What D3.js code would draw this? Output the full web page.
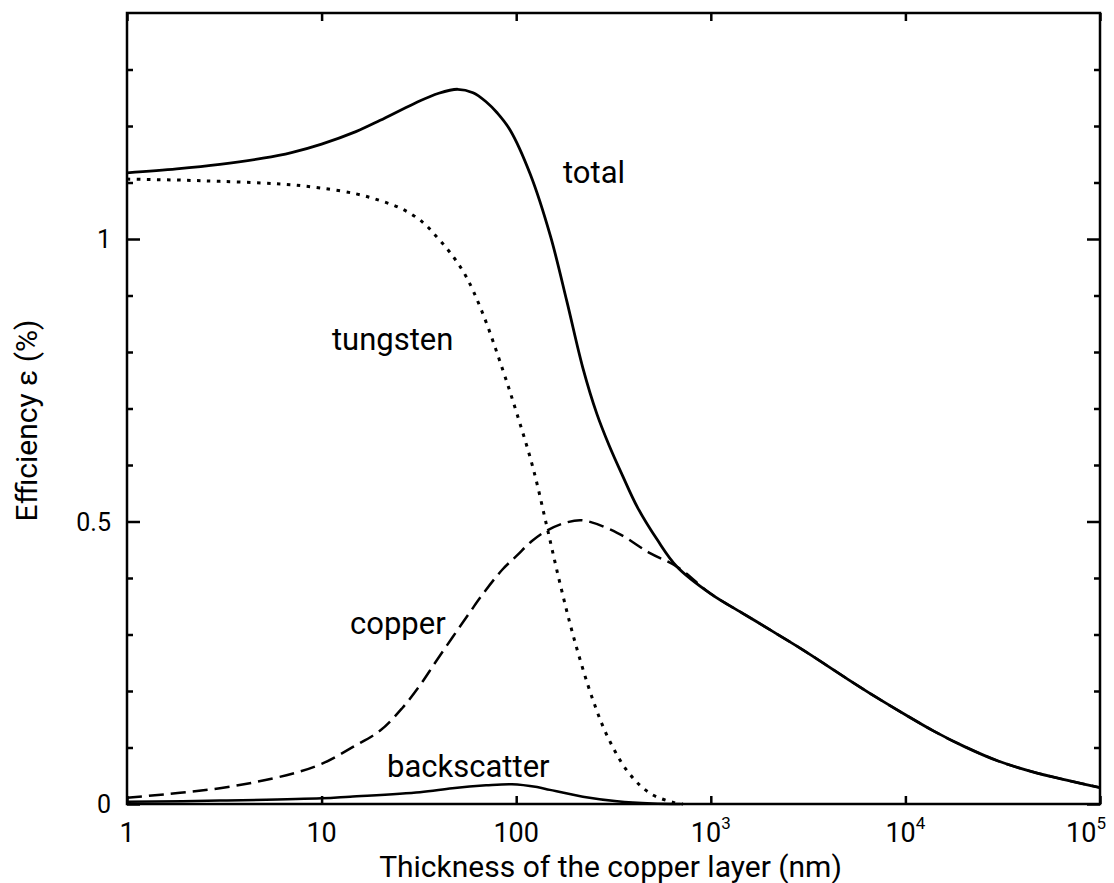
<!DOCTYPE html>
<html>
<head>
<meta charset="utf-8">
<script src="https://cdn.jsdelivr.net/npm/d3@7"></script>
<style>
  body { margin: 0; background: #fff; }
  text { font-family: Roboto, "DejaVu Sans", sans-serif; fill: #000; }
</style>
</head>
<body>
<div id="chart"></div>
<script>
// values: [thickness (nm), efficiency (%)]
var totalCurve = [[1, 1.117], [1.8, 1.124], [3, 1.132], [5, 1.143], [7, 1.153], [10, 1.168], [15, 1.19],
  [20, 1.21], [30, 1.24], [40, 1.258], [50, 1.265], [60, 1.259], [70, 1.243], [80, 1.223], [93, 1.193],
  [118, 1.115], [150, 1.005], [182, 0.89], [220, 0.772], [260, 0.69], [300, 0.635], [350, 0.583],
  [420, 0.525], [530, 0.468], [670, 0.42], [1000, 0.372], [1500, 0.335], [2000, 0.309], [3000, 0.272],
  [5000, 0.222], [7000, 0.19], [10000, 0.158], [14000, 0.129], [20000, 0.102], [30000, 0.076],
  [45000, 0.057], [70000, 0.041], [100000, 0.029]];

var tungstenCurve = [[1, 1.106], [2, 1.104], [3, 1.102], [5, 1.099], [7, 1.096], [10, 1.09], [15, 1.08],
  [20, 1.068], [26, 1.053], [33, 1.03], [39, 1.004], [46, 0.975], [55, 0.935], [67, 0.87], [85, 0.77],
  [101, 0.69], [122, 0.595], [144, 0.49], [168, 0.39], [200, 0.288], [248, 0.184],
  [296, 0.118], [375, 0.057], [487, 0.019], [655, 0.002], [720, 0]];

var copperCurve = [[1, 0.011], [3, 0.028], [6.6, 0.051], [10, 0.071], [14.5, 0.101], [20, 0.13],
  [26, 0.17], [32, 0.21], [39, 0.254], [58, 0.34], [67.5, 0.372], [85, 0.415], [101, 0.44], [120, 0.465],
  [144, 0.484], [180, 0.498], [220, 0.502], [330, 0.48], [487, 0.444], [670, 0.42], [1000, 0.372],
  [1500, 0.335], [2000, 0.309], [3000, 0.272], [5000, 0.222], [7000, 0.19], [10000, 0.158],
  [14000, 0.129], [20000, 0.102], [30000, 0.076], [45000, 0.057], [70000, 0.041], [100000, 0.029]];

var backscatterCurve = [[1, 0.004], [3, 0.006], [10, 0.01], [14, 0.013], [32, 0.021], [47, 0.028],
  [70, 0.033], [95, 0.035], [128, 0.03], [149, 0.025], [220, 0.013], [330, 0.005], [500, 0.001], [700, 0]];

var xTicks = [1, 10, 100, 1e3, 1e4, 1e5];
var xTickBase = ["1", "10", "100", "10", "10", "10"];
var xTickExp = ["", "", "", "3", "4", "5"];
var yMajor = [0, 0.5, 1];
var yMajorLabels = ["0", "0.5", "1"];
var yMinor = [0.1, 0.2, 0.3, 0.4, 0.6, 0.7, 0.8, 0.9, 1.1, 1.2, 1.3];

var curveLabels = [
  {text: "total", x: 174, y: 1.099},
  {text: "tungsten", x: 11.3, y: 0.804},
  {text: "copper", x: 14, y: 0.301},
  {text: "backscatter", x: 21.7, y: 0.048}
];

var W = 1114, H = 883,
  margin = {top: 13, right: 14, bottom: 79, left: 127},
  width = W - margin.left - margin.right,
  height = H - margin.top - margin.bottom;

var svg = d3.select("#chart").append("svg")
  .attr("width", W).attr("height", H)
  .append("g")
  .attr("transform", "translate(" + margin.left + "," + margin.top + ")");

var x = d3.scaleLog().domain([1, 1e5]).range([0, width]);
var y = d3.scaleLinear().domain([0, 1.4]).range([height, 0]);

// tick marks, all pointing inward
function styleTicks(g) {
  g.select(".domain").remove();
  g.selectAll("line").attr("stroke", "#000").attr("stroke-width", 2.5);
  g.selectAll("text").remove();
}
svg.append("g").attr("transform", "translate(0," + height + ")")
  .call(d3.axisBottom(x).tickValues(xTicks).tickSize(-8)).call(styleTicks);
svg.append("g")
  .call(d3.axisTop(x).tickValues(xTicks).tickSize(-8)).call(styleTicks);
svg.append("g")
  .call(d3.axisLeft(y).tickValues(yMajor).tickSize(-13)).call(styleTicks);
svg.append("g")
  .call(d3.axisLeft(y).tickValues(yMinor).tickSize(-6)).call(styleTicks);
svg.append("g").attr("transform", "translate(" + width + ",0)")
  .call(d3.axisRight(y).tickValues(yMajor).tickSize(-13)).call(styleTicks);
svg.append("g").attr("transform", "translate(" + width + ",0)")
  .call(d3.axisRight(y).tickValues(yMinor).tickSize(-6)).call(styleTicks);

// frame
svg.append("rect")
  .attr("width", width).attr("height", height)
  .attr("fill", "none").attr("stroke", "#000").attr("stroke-width", 2.5);

// tick labels (last one kept inside the page)
var last = xTicks.length - 1;
var xl = svg.selectAll(".xlab").data(xTicks).enter().append("text")
  .attr("class", "xlab")
  .attr("x", (d, i) => i === last ? x(d) + 6 : x(d))
  .attr("y", height + 38)
  .attr("text-anchor", (d, i) => i === last ? "end" : "middle")
  .style("font-size", "27px");
xl.append("tspan").text((d, i) => xTickBase[i]);
xl.append("tspan").attr("dy", -13).style("font-size", "17px").text((d, i) => xTickExp[i]);

svg.selectAll(".ylab").data(yMajor).enter().append("text")
  .attr("class", "ylab")
  .attr("x", -16)
  .attr("y", d => y(d) + 9)
  .attr("text-anchor", "end")
  .style("font-size", "25px")
  .text((d, i) => yMajorLabels[i]);

// curves
var line = d3.line()
  .x(d => x(d[0]))
  .y(d => y(d[1]))
  .curve(d3.curveCatmullRom.alpha(0.5));

svg.append("path").datum(tungstenCurve)
  .attr("d", line).attr("fill", "none").attr("stroke", "#000")
  .attr("stroke-width", 3).attr("stroke-dasharray", "3.5,6.5");
svg.append("path").datum(copperCurve)
  .attr("d", line).attr("fill", "none").attr("stroke", "#000")
  .attr("stroke-width", 2.5).attr("stroke-dasharray", "15,7");
svg.append("path").datum(backscatterCurve)
  .attr("d", line).attr("fill", "none").attr("stroke", "#000")
  .attr("stroke-width", 2.5);
svg.append("path").datum(totalCurve)
  .attr("d", line).attr("fill", "none").attr("stroke", "#000")
  .attr("stroke-width", 2.8);

// curve labels
svg.selectAll(".clab").data(curveLabels).enter().append("text")
  .attr("class", "clab")
  .attr("x", d => x(d.x))
  .attr("y", d => y(d.y))
  .style("font-size", "31px")
  .text(d => d.text);

// axis titles
svg.append("text")
  .attr("x", width / 2 - 3)
  .attr("y", height + 73)
  .attr("text-anchor", "middle")
  .style("font-size", "30px")
  .text("Thickness of the copper layer (nm)");

svg.append("text")
  .attr("transform", "translate(-90," + (height / 2 + 12) + ") rotate(-90)")
  .attr("text-anchor", "middle")
  .style("font-size", "30px")
  .text("Efficiency ε (%)");
</script>
</body>
</html>
